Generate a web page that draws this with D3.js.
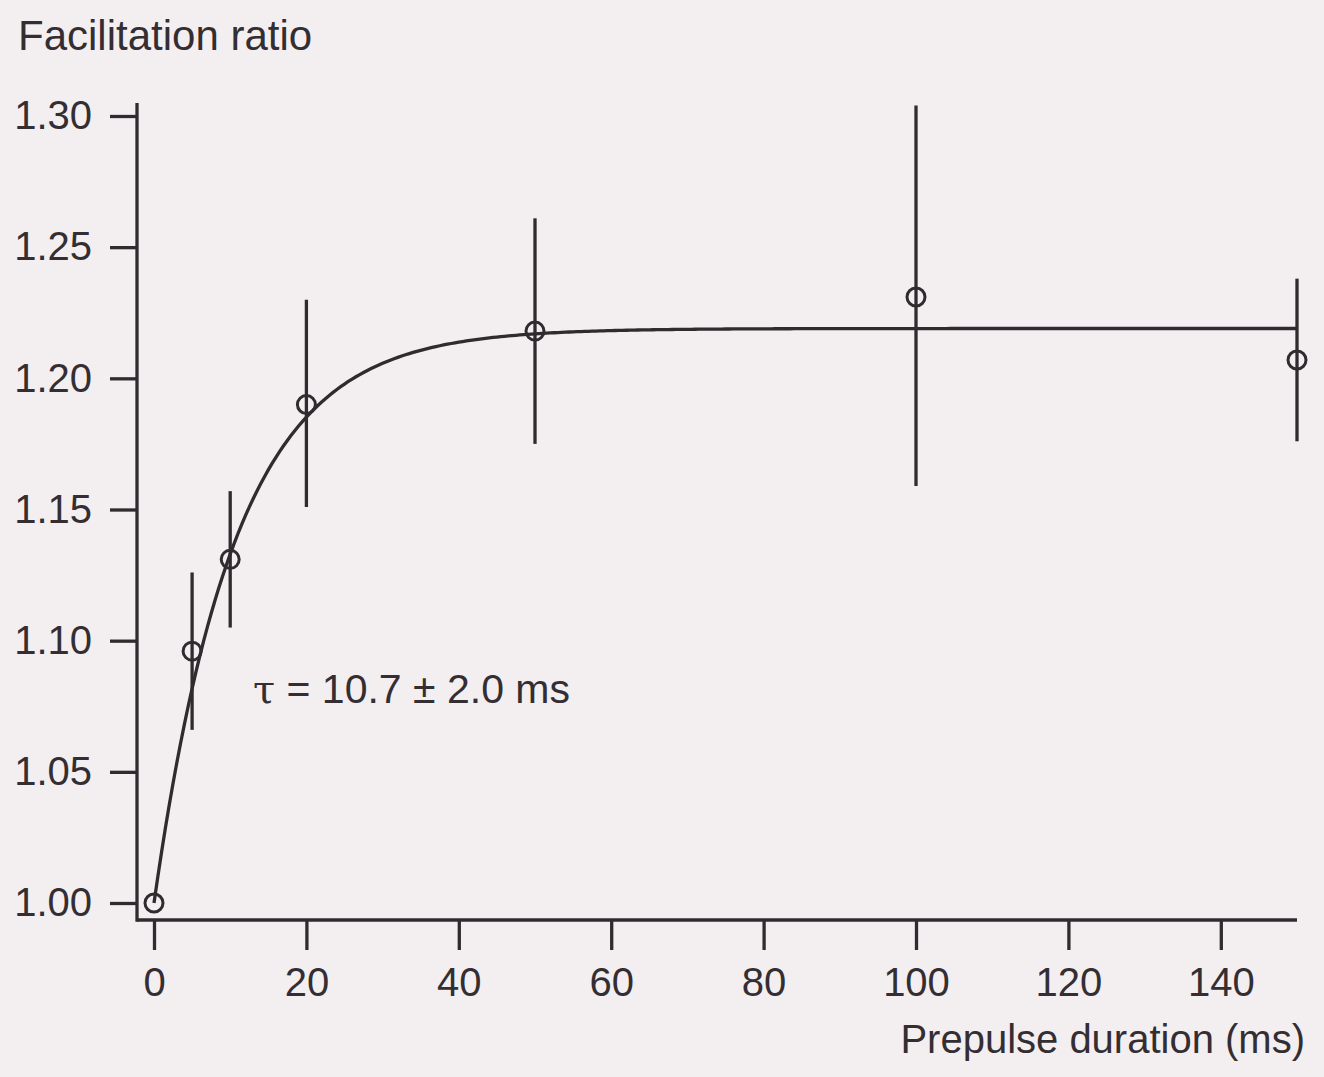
<!DOCTYPE html>
<html>
<head>
<meta charset="utf-8">
<script src="https://cdn.jsdelivr.net/npm/d3@7"></script>
<style>
  html, body { margin: 0; padding: 0; background: #f3eff1; }
  svg { display: block; }
  text { font-family: "Liberation Sans", Arial, Helvetica, sans-serif; fill: #342e33; }
</style>
</head>
<body>
<svg id="chart" width="1324" height="1077"></svg>
<script>
// ---- data ----
const durations = [0, 5, 10, 20, 50, 100, 150];
const ratios    = [1.000, 1.096, 1.131, 1.190, 1.218, 1.231, 1.207];
const errLow    = [1.000, 1.066, 1.105, 1.151, 1.175, 1.159, 1.176];
const errHigh   = [1.000, 1.126, 1.157, 1.230, 1.261, 1.304, 1.238];
const xTicks = [0, 20, 40, 60, 80, 100, 120, 140];
const yTicks = [1.00, 1.05, 1.10, 1.15, 1.20, 1.25, 1.30];
const fitTau = 10.7;        // ms
const fitAmplitude = 0.219; // plateau - 1
const fitSymbol = "τ";
const fitLabel = " = 10.7 ± 2.0 ms";
const xLabel = "Prepulse duration (ms)";
const yLabel = "Facilitation ratio";

const ink = "#312b30";
const sw = 3.3;
const svg = d3.select("#chart");

const x = d3.scaleLinear().domain([0, 150]).range([154, 1297]);
const y = d3.scaleLinear().domain([1.0, 1.3]).range([903, 116]);

const axisX0 = 137, axisY0 = 920;
const sans = '"Liberation Sans", Arial, sans-serif';

// X axis ticks
const gx = svg.append("g").attr("transform", `translate(0,${axisY0})`)
  .call(d3.axisBottom(x).tickValues(xTicks).tickSize(30).tickSizeOuter(0).tickFormat(d3.format("d")).tickPadding(18));
gx.select(".domain").remove();
gx.selectAll(".tick line").attr("stroke", ink).attr("stroke-width", sw);
gx.selectAll(".tick text").attr("font-size", 40).attr("fill", ink).attr("font-family", sans);

// Y axis ticks
const gy = svg.append("g").attr("transform", `translate(${axisX0},0)`)
  .call(d3.axisLeft(y).tickValues(yTicks).tickSize(27).tickSizeOuter(0).tickFormat(d3.format(".2f")).tickPadding(18));
gy.select(".domain").remove();
gy.selectAll(".tick line").attr("stroke", ink).attr("stroke-width", sw);
gy.selectAll(".tick text").attr("font-size", 40).attr("fill", ink).attr("font-family", sans);

// Axis lines
svg.append("line").attr("x1", axisX0).attr("x2", axisX0).attr("y1", 103).attr("y2", axisY0 + sw / 2)
  .attr("stroke", ink).attr("stroke-width", sw);
svg.append("line").attr("x1", axisX0).attr("x2", x(150)).attr("y1", axisY0).attr("y2", axisY0)
  .attr("stroke", ink).attr("stroke-width", sw);

// Fit curve
const fitT = d3.range(0, 150.01, 0.5);
const line = d3.line().x(d => x(d)).y(d => y(1 + fitAmplitude * (1 - Math.exp(-d / fitTau))));
svg.append("path").datum(fitT).attr("d", line)
  .attr("fill", "none").attr("stroke", ink).attr("stroke-width", sw);

// Error bars
const pts = durations.map((d, i) => ({ t: d, r: ratios[i], lo: errLow[i], hi: errHigh[i] }));
svg.append("g").selectAll("line").data(pts.filter(p => p.hi > p.lo)).join("line")
  .attr("x1", p => x(p.t)).attr("x2", p => x(p.t))
  .attr("y1", p => y(p.hi)).attr("y2", p => y(p.lo))
  .attr("stroke", ink).attr("stroke-width", sw);

// Points (open circles, lines visible through them)
svg.append("g").selectAll("circle").data(pts).join("circle")
  .attr("cx", p => x(p.t)).attr("cy", p => y(p.r)).attr("r", 9)
  .attr("fill", "none").attr("stroke", ink).attr("stroke-width", 3);

// Labels
svg.append("text").attr("x", 18).attr("y", 50).attr("font-size", 42).text(yLabel);
svg.append("text").attr("x", 1305).attr("y", 1053).attr("font-size", 40).attr("text-anchor", "end").text(xLabel);
const tl = svg.append("text").attr("x", 253).attr("y", 703).attr("font-size", 41);
tl.append("tspan").attr("font-family", '"DejaVu Serif", "Liberation Serif", serif').attr("font-size", 40).text(fitSymbol);
tl.append("tspan").text(fitLabel);
</script>
</body>
</html>
